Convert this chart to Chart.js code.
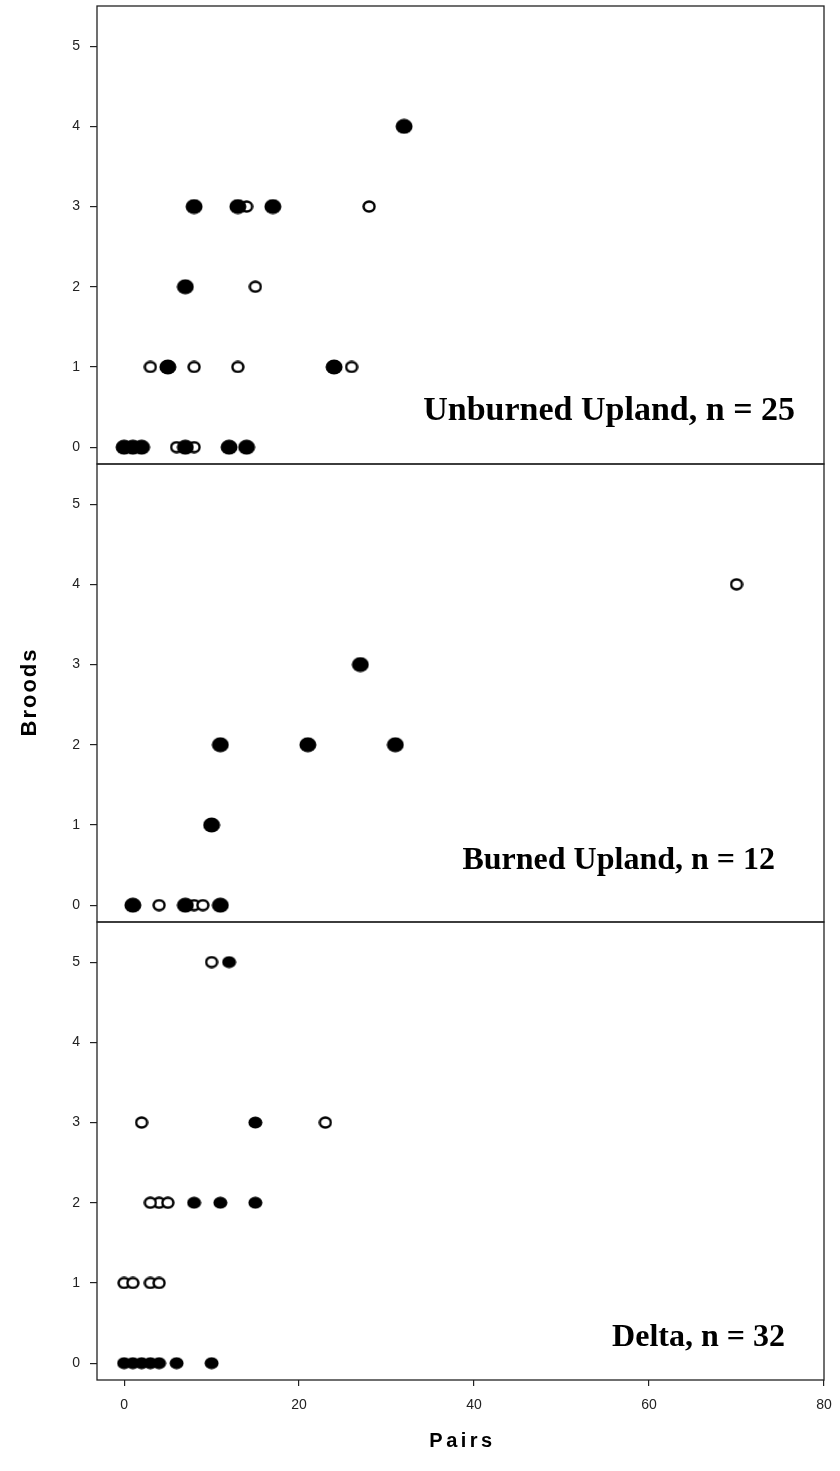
<!DOCTYPE html>
<html><head><meta charset="utf-8">
<script src="https://cdn.jsdelivr.net/npm/chart.js@4.4.1/dist/chart.umd.min.js"></script>
<style>
html,body{margin:0;padding:0;background:#fff;}
#wrap{position:relative;width:840px;height:1471px;overflow:hidden;background:#fff;}
canvas{position:absolute;left:0;}
</style></head><body>
<div id="wrap">
<canvas id="c1"></canvas><canvas id="c2"></canvas><canvas id="c3"></canvas>
</div>
<script>
// ---- data ----
const xTicks = [0, 20, 40, 60, 80];
const yTicks = [0, 1, 2, 3, 4, 5];
const panelLabels = ['Unburned Upland, n = 25', 'Burned Upland, n = 12', 'Delta, n = 32'];
const xTitle = 'Pairs';
const yTitle = 'Broods';

// Unburned Upland
const upFilledX = [32, 8, 13, 17, 7, 5, 24, 0, 1, 2, 7, 12, 14];
const upFilledY = [4, 3, 3, 3, 2, 1, 1, 0, 0, 0, 0, 0, 0];
const upOpenX = [14, 28, 15, 3, 8, 13, 26, 6, 8];
const upOpenY = [3, 3, 2, 1, 1, 1, 1, 0, 0];
// Burned Upland
const buFilledX = [27, 11, 21, 31, 10, 1, 7, 11];
const buFilledY = [3, 2, 2, 2, 1, 0, 0, 0];
const buOpenX = [70, 4, 8, 9];
const buOpenY = [4, 0, 0, 0];
// Delta
const deFilledX = [12, 15, 8, 11, 15, 0, 1, 2, 3, 4, 6, 10];
const deFilledY = [5, 3, 2, 2, 2, 0, 0, 0, 0, 0, 0, 0];
const deOpenX = [10, 2, 23, 4, 3, 5, 0, 1, 3, 4];
const deOpenY = [5, 3, 3, 2, 2, 2, 1, 1, 1, 1];

// ---- helpers ----
function pts(xs, ys) { return xs.map((x, i) => ({ x: x, y: ys[i] })); }
function ellipseImg(w, h, filled) {
  const c = document.createElement('canvas');
  c.width = w; c.height = h;
  const g = c.getContext('2d');
  g.beginPath();
  if (filled) {
    g.ellipse(w / 2, h / 2, w / 2 - 0.5, h / 2 - 0.5, 0, 0, Math.PI * 2);
    g.fillStyle = '#000'; g.fill();
  } else {
    g.ellipse(w / 2, h / 2, w / 2 - 1.5, h / 2 - 1.5, 0, 0, Math.PI * 2);
    g.fillStyle = '#fff'; g.fill();
    g.lineWidth = 2.4; g.strokeStyle = '#000'; g.stroke();
  }
  return c;
}
const bigDot = ellipseImg(18, 16, true);
const smallDot = ellipseImg(15, 13, true);
const ring = ellipseImg(14, 13, false);

const AXIS = '#222';
const tickFont = { family: '"Liberation Sans", Arial, sans-serif', size: 14 };

const framePlugin = {
  id: 'frame',
  afterDraw(chart) {
    const a = chart.chartArea, ctx = chart.ctx;
    ctx.save();
    ctx.strokeStyle = AXIS; ctx.lineWidth = 1.3;
    ctx.strokeRect(a.left, a.top, a.right - a.left, a.bottom - a.top);
    ctx.restore();
  }
};

function makePanel(id, top, height, padTop, padBottom, showX, filled, open, dotImg, label, labOff, labSize, extraDraw) {
  const cv = document.getElementById(id);
  cv.width = 840; cv.height = height; cv.style.top = top + 'px';
  return new Chart(cv, {
    type: 'scatter',
    data: {
      datasets: [
        { data: filled, pointStyle: dotImg, pointRadius: 8, pointHoverRadius: 8 },
        { data: open, pointStyle: ring, pointRadius: 7, pointHoverRadius: 7 }
      ]
    },
    options: {
      responsive: false, maintainAspectRatio: false, animation: false,
      layout: { autoPadding: false, padding: { top: padTop, bottom: padBottom, left: 0, right: 16 } },
      plugins: { legend: { display: false }, tooltip: { enabled: false } },
      scales: {
        x: {
          type: 'linear', min: -3.1, max: 80, display: showX,
          afterBuildTicks: s => { s.ticks = xTicks.map(v => ({ value: v })); },
          afterFit: s => { if (showX) s.height = 91; s.paddingLeft = 0; s.paddingRight = 0; s.paddingTop = 0; s.paddingBottom = 0; },
          grid: { drawOnChartArea: false, drawTicks: true, tickLength: 6, color: AXIS, lineWidth: 1.2 },
          border: { display: false },
          ticks: { padding: 11, font: tickFont, color: AXIS, maxRotation: 0 }
        },
        y: {
          type: 'linear', min: -0.21, max: 5.5,
          afterBuildTicks: s => { s.ticks = yTicks.map(v => ({ value: v })); },
          afterFit: s => { s.width = 97; s.paddingTop = 0; s.paddingBottom = 0; s.paddingLeft = 0; s.paddingRight = 0; },
          grid: { drawOnChartArea: false, drawTicks: true, tickLength: 7, color: AXIS, lineWidth: 1.2 },
          border: { display: false },
          ticks: { padding: 10, font: tickFont, color: AXIS }
        }
      }
    },
    plugins: [framePlugin, {
      id: 'labels',
      afterDraw(chart) {
        const a = chart.chartArea, ctx = chart.ctx;
        ctx.save();
        ctx.font = 'bold ' + labSize + 'px "Liberation Serif", "Times New Roman", serif';
        ctx.fillStyle = '#000';
        ctx.textAlign = 'right'; ctx.textBaseline = 'alphabetic';
        ctx.fillText(label, a.right - labOff[0], a.bottom - labOff[1]);
        ctx.restore();
        if (extraDraw) extraDraw(chart);
      }
    }]
  });
}

makePanel('c1', 0, 470, 6, 6, false, pts(upFilledX, upFilledY), pts(upOpenX, upOpenY), bigDot,
  panelLabels[0], [29, 44], 34);
makePanel('c2', 458, 470, 6, 6, false, pts(buFilledX, buFilledY), pts(buOpenX, buOpenY), bigDot,
  panelLabels[1], [49, 53], 32, chart => {
    const a = chart.chartArea, ctx = chart.ctx;
    ctx.save();
    ctx.translate(30, (a.top + a.bottom) / 2);
    ctx.rotate(-Math.PI / 2);
    ctx.font = 'bold 22px "Liberation Sans", Arial, sans-serif';
    ctx.fillStyle = '#000'; ctx.textAlign = 'center'; ctx.textBaseline = 'middle';
    try { ctx.letterSpacing = '2px'; } catch (e) {}
    ctx.fillText(yTitle, 1, 0);
    ctx.restore();
  });
makePanel('c3', 916, 555, 6, 0, true, pts(deFilledX, deFilledY), pts(deOpenX, deOpenY), smallDot,
  panelLabels[2], [39, 34], 32, chart => {
    const a = chart.chartArea, ctx = chart.ctx;
    ctx.save();
    ctx.font = 'bold 20px "Liberation Sans", Arial, sans-serif';
    ctx.fillStyle = '#000'; ctx.textAlign = 'center'; ctx.textBaseline = 'middle';
    try { ctx.letterSpacing = '3.5px'; } catch (e) {}
    ctx.fillText(xTitle, (a.left + a.right) / 2 + 2, a.bottom + 61);
    ctx.restore();
  });
</script>
</body></html>
